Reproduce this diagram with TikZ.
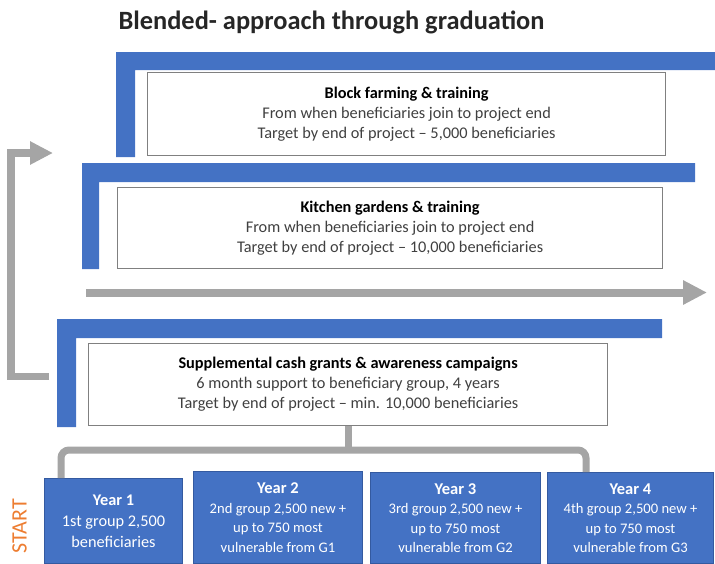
\documentclass[tikz,border=0pt]{standalone}
\usepackage{fontspec}
\setmainfont{Carlito}
\usetikzlibrary{arrows.meta}
\definecolor{bleuL}{RGB}{68,114,196}
\definecolor{bleuB}{RGB}{52,90,160}
\definecolor{grisF}{RGB}{165,165,165}
\definecolor{grisB}{RGB}{128,128,128}
\definecolor{texteG}{RGB}{64,64,64}
\definecolor{orangeS}{RGB}{237,125,49}

\tikzset{
  etape/.style={draw=grisB, line width=1.2pt, fill=white, anchor=north west,
    inner sep=0pt, align=center, text=texteG, font=\fontsize{16.3}{20}\selectfont},
  annee/.style={draw=bleuB, line width=1pt, fill=bleuL, anchor=north west,
    inner sep=0pt, align=center, text=white, font=\fontsize{14.6}{19.5}\selectfont},
  fleche/.style={grisF, line width=8pt, -{Triangle[length=24pt,width=23pt]}},
  accolade/.style={grisF, line width=7pt, rounded corners=8pt},
}

\begin{document}
\begin{tikzpicture}[x=1pt,y=-1pt]
  \useasboundingbox (0,0) rectangle (715,563);
  \clip (0,0) rectangle (715,563);
  % titre
  \node[anchor=west, font=\fontsize{26.4}{30}\selectfont\bfseries, text=black!85] (titre)
    at (115,22) {Blended- approach through graduation};
  % bandes bleues
  \fill[bleuL] (116,52)--(715,52)--(715,70)--(135,70)--(135,157)--(116,157)--cycle;
  \fill[bleuL] (82,163)--(695,163)--(695,182)--(99,182)--(99,269)--(82,269)--cycle;
  \fill[bleuL] (57,319)--(662,319)--(662,338)--(76,338)--(76,427)--(57,427)--cycle;
  % cadres
  \node[etape, minimum width=518pt, minimum height=83pt] (bloc) at (147,72)
    {\textcolor{black}{\textbf{Block farming \& training}}\\
     From when beneficiaries join to project end\\
     Target by end of project -- 5,000 beneficiaries};
  \node[etape, minimum width=545pt, minimum height=81pt] (jardin) at (117,187)
    {\textcolor{black}{\textbf{Kitchen gardens \& training}}\\
     From when beneficiaries join to project end\\
     Target by end of project -- 10,000 beneficiaries};
  \node[etape, minimum width=519pt, minimum height=82pt] (cash) at (88,343)
    {\textcolor{black}{\textbf{Supplemental cash grants \& awareness campaigns}}\\
     6 month support to beneficiary group, 4 years\\
     Target by end of project -- min. 10,000 beneficiaries};
  % annees
  \node[annee, minimum width=138pt, minimum height=85pt, font=\fontsize{16.3}{21}\selectfont] (an1) at (44,478)
    {\textbf{Year 1}\\1st group 2,500\\beneficiaries};
  \node[annee, minimum width=169pt, minimum height=92pt] (an2) at (193,471)
    {{\fontsize{16.5}{20}\selectfont\textbf{Year 2}}\\2nd group 2,500 new +\\up to 750 most\\vulnerable from G1};
  \node[annee, minimum width=170pt, minimum height=91pt] (an3) at (370,472)
    {{\fontsize{16.5}{20}\selectfont\textbf{Year 3}}\\3rd group 2,500 new +\\up to 750 most\\vulnerable from G2};
  \node[annee, minimum width=166pt, minimum height=91pt] (an4) at (547,472)
    {{\fontsize{16.5}{20}\selectfont\textbf{Year 4}}\\4th group 2,500 new +\\up to 750 most\\vulnerable from G3};
  \node[rotate=90, text=orangeS, font=\fontsize{22}{24}\selectfont] (start) at (19.5,526) {START};
  % fleches grises
  \coordinate (boucleD) at (49,376.5);
  \coordinate (boucleF) at (53,153);
  \draw[fleche, line width=7.5pt, -{Triangle[length=23pt,width=22pt]}]
    (boucleD) -- (11,376.5) -- (11,153) -- (boucleF);
  \coordinate (axeD) at (86,292.5);
  \coordinate (axeF) at (707,292.5);
  \draw[fleche] (axeD) -- (axeF);
  % accolade
  \coordinate (accG) at (61,450);
  \coordinate (accD) at (586,450);
  \draw[accolade] (cash.south) -- (cash.south |- accG);
  \draw[accolade] (an1.north -| accG) -- (accG) -- (accD) -- (an4.north -| accD);
\end{tikzpicture}
\end{document}
